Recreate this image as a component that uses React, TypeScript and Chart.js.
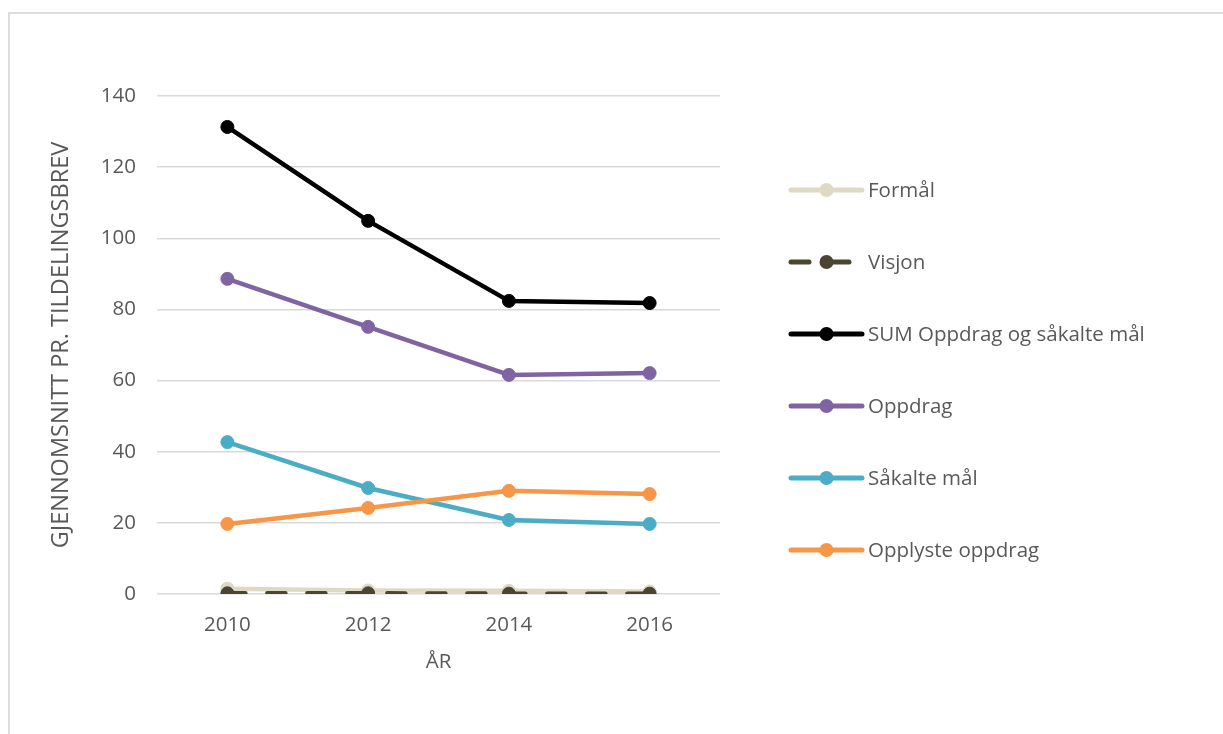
import React, { useEffect, useRef } from "react";
import { Chart, registerables } from "chart.js";

Chart.register(...registerables);

// ---- data ----
const years = ["2010", "2012", "2014", "2016"];
const seriesNames = [
  "Formål",
  "Visjon",
  "SUM Oppdrag og såkalte mål",
  "Oppdrag",
  "Såkalte mål",
  "Opplyste oppdrag",
];
const formaal = [1.5, 1.0, 0.9, 0.7];
const visjon = [0.2, 0.2, 0.1, 0.1];
const sumOppdragMaal = [131.3, 104.9, 82.4, 81.8];
const oppdrag = [88.6, 75.1, 61.6, 62.1];
const saakalteMaal = [42.7, 29.8, 20.8, 19.7];
const opplysteOppdrag = [19.7, 24.2, 29.0, 28.1];
const yTickValues = [0, 20, 40, 60, 80, 100, 120, 140];
const xTitle = "ÅR";
const yTitle = "GJENNOMSNITT PR. TILDELINGSBREV";

const seriesValues = [formaal, visjon, sumOppdragMaal, oppdrag, saakalteMaal, opplysteOppdrag];
const seriesColors = ["#ddd9c3", "#4a4530", "#000000", "#8064a2", "#4bacc6", "#f79646"];
const seriesDashes: number[][] = [[], [18, 22], [], [], [], []];

const FONT = '"Open Sans", "Noto Sans", sans-serif';
const TEXT = "#595959";

const sideLegend = {
  id: "sideLegend",
  afterDraw(chart: any) {
    const { ctx, chartArea } = chart;
    chart.data.datasets.forEach((ds: any, i: number) => {
      const y = chartArea.top + 94 + i * 72;
      const x0 = chartArea.right + 71;
      const x1 = x0 + 71;
      const cx = (x0 + x1) / 2;
      ctx.save();
      ctx.strokeStyle = ds.borderColor;
      ctx.lineWidth = 5;
      ctx.lineCap = "round";
      ctx.setLineDash(ds.borderDash || []);
      ctx.beginPath();
      ctx.moveTo(x0, y);
      ctx.lineTo(x1, y);
      ctx.stroke();
      ctx.setLineDash([]);
      ctx.fillStyle = ds.pointBackgroundColor;
      ctx.beginPath();
      ctx.arc(cx, y, 7, 0, Math.PI * 2);
      ctx.fill();
      ctx.fillStyle = TEXT;
      ctx.font = `20.5px ${FONT}`;
      ctx.textBaseline = "middle";
      ctx.textAlign = "left";
      ctx.fillText(ds.label, x1 + 6, y + 1);
      ctx.restore();
    });
  },
};

export default function App() {
  const canvasRef = useRef<HTMLCanvasElement | null>(null);

  useEffect(() => {
    if (!canvasRef.current) return;
    const datasets = seriesNames.map((name, i) => ({
      label: name,
      data: seriesValues[i],
      borderColor: seriesColors[i],
      backgroundColor: seriesColors[i],
      pointBackgroundColor: seriesColors[i],
      pointBorderColor: seriesColors[i],
      borderWidth: 4.5,
      borderDash: seriesDashes[i],
      borderCapStyle: "round" as const,
      borderJoinStyle: "round" as const,
      pointRadius: 6.5,
      pointBorderWidth: 1,
      tension: 0,
      order: seriesNames.length - i,
    }));

    const chart = new Chart(canvasRef.current, {
      type: "line",
      data: { labels: years, datasets },
      options: {
        animation: false,
        responsive: true,
        maintainAspectRatio: false,
        layout: { padding: { top: 96, left: 0, right: 503, bottom: 0 } },
        plugins: {
          legend: { display: false },
          tooltip: { enabled: false },
        },
        scales: {
          x: {
            offset: true,
            grid: { display: false, drawTicks: false },
            border: { display: false },
            ticks: {
              color: TEXT,
              font: { family: FONT, size: 20.5 },
              padding: 19,
            },
            title: {
              display: true,
              text: xTitle,
              color: TEXT,
              font: { family: FONT, size: 20.5 },
              padding: { top: 0, bottom: 60 },
            },
            afterFit(scale: any) {
              scale.height = 140;
            },
          },
          y: {
            min: 0,
            max: 140,
            afterBuildTicks(scale: any) {
              scale.ticks = yTickValues.map((v) => ({ value: v }));
            },
            grid: { color: "#d9d9d9", lineWidth: 1.5, drawTicks: false },
            border: { display: false },
            ticks: {
              color: TEXT,
              font: { family: FONT, size: 20.5 },
              padding: 21,
            },
            title: {
              display: true,
              text: yTitle,
              color: TEXT,
              font: { family: FONT, size: 23.5 },
              padding: { top: 47, bottom: 0 },
            },
            afterFit(scale: any) {
              scale.width = 157;
            },
          },
        },
      },
      plugins: [sideLegend],
    });
    return () => chart.destroy();
  }, []);

  return (
    <div
      style={{
        position: "fixed",
        left: 0,
        top: 0,
        width: 1223,
        height: 734,
        overflow: "hidden",
        background: "#ffffff",
      }}
    >
      <div
        style={{
          position: "absolute",
          left: 8,
          top: 12,
          width: 1400,
          height: 900,
          borderTop: "2px solid #dcdcdc",
          borderLeft: "2px solid #dcdcdc",
        }}
      />
      <div style={{ position: "absolute", left: 0, top: 0, width: 1223, height: 734 }}>
        <canvas ref={canvasRef} />
      </div>
    </div>
  );
}
